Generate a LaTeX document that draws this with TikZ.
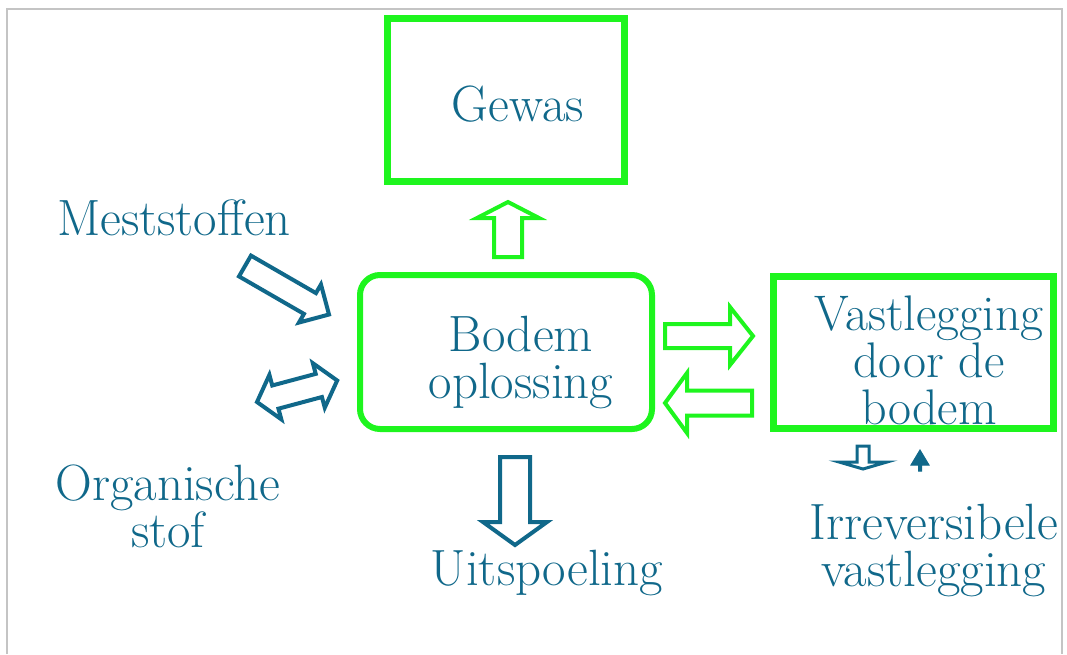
\documentclass[tikz,border=0pt]{standalone}
\usepackage{tikz}
\usetikzlibrary{positioning}
\definecolor{inkteal}{RGB}{16,104,138}
\definecolor{boxgreen}{RGB}{30,245,30}
\definecolor{framegray}{RGB}{196,196,196}
% block arrow: style, tail, angle, length, shaft half width, head half width, head length
\newcommand{\blockarrow}[7]{\draw[#1,shift={#2},rotate=#3] (0,-#5) -- ({#4-#7},-#5) -- ({#4-#7},-#6) -- (#4,0) -- ({#4-#7},#6) -- ({#4-#7},#5) -- (0,#5) -- cycle;}
% two way arrow: style, left tip, angle, length, shaft half width, head half width, head length
\newcommand{\twowayarrow}[7]{\draw[#1,shift={#2},rotate=#3] (0,0) -- (#7,-#6) -- (#7,-#5) -- ({#4-#7},-#5) -- ({#4-#7},-#6) -- (#4,0) -- ({#4-#7},#6) -- ({#4-#7},#5) -- (#7,#5) -- (#7,#6) -- cycle;}
\tikzset{
  lbl/.style={text=inkteal, font=\fontsize{51}{47}\selectfont, align=center, inner sep=0pt},
  greenbox/.style={draw=boxgreen, line width=7pt, inner sep=0pt},
  greenarrow/.style={draw=boxgreen, line width=4pt},
  tealarrow/.style={draw=inkteal, line width=4pt}
}
\begin{document}
\begin{tikzpicture}[x=1pt,y=-1pt]
  \useasboundingbox (0,0) rectangle (1067,654);
  \draw[framegray, line width=2pt] (7,654) -- (7,9) -- (1062,9) -- (1062,654);
  % boxes
  \node[greenbox, minimum width=237pt, minimum height=163pt] (gewas) at (506,100) {};
  \node[greenbox, line width=6pt, rounded corners=20pt, minimum width=292pt, minimum height=154pt] (bodem) at (506,352) {};
  \node[greenbox, minimum width=280pt, minimum height=152pt] (vast) at (913.5,352.5) {};
  % labels
  \node[lbl, anchor=base] (gewastxt) at (518,121) {Gewas};
  \node[lbl] (bodemtxt) at (521,362) {Bodem\\oplossing};
  \node[lbl, font=\fontsize{50}{47}\selectfont] (vasttxt) at (929,360) {Vastlegging\\door de\\bodem};
  \node[lbl, anchor=base] (mest) at (174,235) {Meststoffen};
  \node[lbl] (org) at (168,506) {Organische\\stof};
  \node[lbl, anchor=base] (uit) at (547,585) {Uitspoeling};
  \node[lbl] (irr) at (934,550) {Irreversibele\\vastlegging};
  % arrows
  \blockarrow{greenarrow}{(508,257)}{90}{55}{14}{31}{16}
  \blockarrow{greenarrow}{(665,336)}{0}{88}{12}{29}{23}
  \blockarrow{greenarrow}{(752,403)}{180}{87}{12.5}{30}{22}
  \blockarrow{tealarrow}{(515,457)}{-90}{88}{15}{32}{23}
  \blockarrow{tealarrow}{(245,266)}{-30}{97}{12}{22}{22}
  \twowayarrow{tealarrow}{(257,402)}{15}{83}{12}{23}{19}
  \blockarrow{tealarrow, line width=3pt}{(863,446)}{-90}{23}{6}{24}{7}
  \blockarrow{draw=inkteal, fill=inkteal, line width=1pt}{(920,471)}{90}{21}{1.5}{9}{15}
\end{tikzpicture}
\end{document}
